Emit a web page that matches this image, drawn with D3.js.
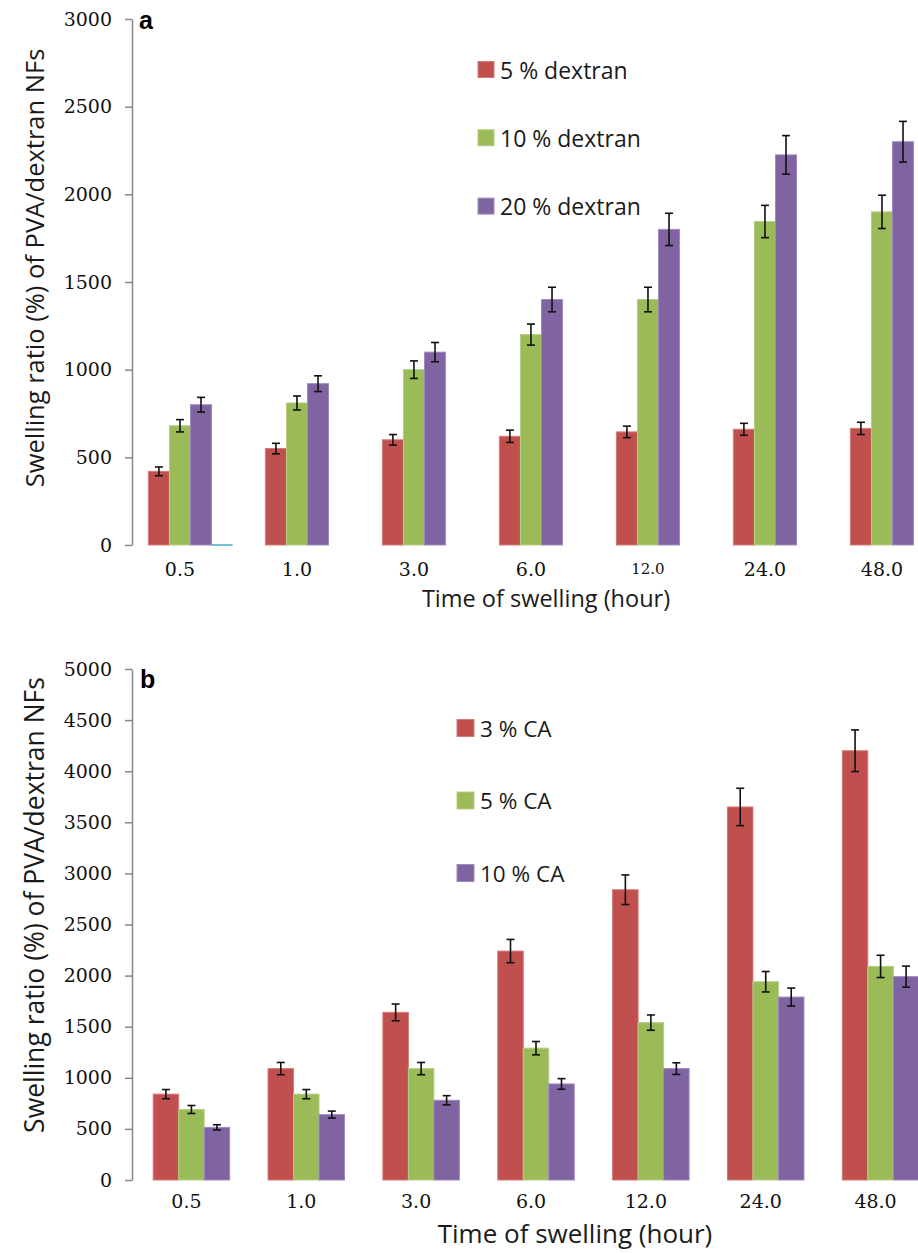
<!DOCTYPE html>
<html>
<head>
<meta charset="utf-8">
<script src="https://cdn.jsdelivr.net/npm/d3@7"></script>
<style>
  html, body { margin: 0; padding: 0; background: #fff; }
  svg { display: block; }
</style>
</head>
<body>
<svg id="chart" width="918" height="1253"></svg>
<script>
// ---------- DATA ----------
const categories = ["0.5", "1.0", "3.0", "6.0", "12.0", "24.0", "48.0"];

// Panel a: PVA/dextran NFs with various dextran contents
const seriesA = ["5 % dextran", "10 % dextran", "20 % dextran"];
const dextran5     = [420, 550, 600, 620, 645, 660, 665];
const dextran5Err  = [25, 30, 30, 35, 33, 34, 35];
const dextran10    = [680, 810, 1000, 1200, 1400, 1845, 1900];
const dextran10Err = [35, 40, 50, 60, 70, 92, 95];
const dextran20    = [800, 920, 1100, 1400, 1800, 2225, 2300];
const dextran20Err = [42, 45, 55, 70, 92, 110, 116];
const emptySeriesA = [0, null, null, null, null, null, null]; // stray empty 4th series
const yTicksA = [0, 500, 1000, 1500, 2000, 2500, 3000];

// Panel b: various CA contents
const seriesB = ["3 % CA", "5 % CA", "10 % CA"];
const ca3     = [840, 1090, 1640, 2240, 2840, 3650, 4200];
const ca3Err  = [45, 60, 82, 114, 145, 183, 204];
const ca5     = [690, 840, 1090, 1290, 1540, 1940, 2090];
const ca5Err  = [39, 45, 60, 65, 75, 100, 109];
const ca10    = [515, 640, 780, 940, 1090, 1790, 1990];
const ca10Err = [26, 34, 45, 52, 57, 88, 103];
const yTicksB = [0, 500, 1000, 1500, 2000, 2500, 3000, 3500, 4000, 4500, 5000];

const yTitle = "Swelling ratio (%) of PVA/dextran NFs";
const xTitle = "Time of swelling (hour)";

// ---------- STYLE ----------
const colors = ["#C0504D", "#9BBB59", "#8064A2"];
const strokes = ["#d27a77", "#b5cf84", "#a08bc0"];
const emptyColor = "#4BACC6";
const axisColor = "#868686";
const serif = "'DejaVu Serif', serif";
const sans = "'Open Sans', sans-serif";

const svg = d3.select("#chart");
svg.append("rect").attr("width", 918).attr("height", 1253).attr("fill", "#fff");

function drawPanel(cfg) {
  const g = svg.append("g");
  const x = d3.scaleBand().domain(categories).range(cfg.xRange)
    .paddingInner(cfg.padIn).paddingOuter(cfg.padIn / 2);
  const sub = d3.scaleBand().domain(cfg.subKeys).range([0, x.bandwidth()]);
  const y = d3.scaleLinear().domain(cfg.yDomain).range(cfg.yRange);

  // y axis
  const ax = g.append("g").attr("transform", `translate(${cfg.xRange[0] - cfg.axisInset},0)`)
    .call(d3.axisLeft(y).tickValues(cfg.yTicks).tickFormat(d3.format("d"))
      .tickSize(7).tickSizeOuter(0).tickPadding(13));
  ax.attr("font-family", serif).attr("font-size", cfg.tickFont);
  ax.select(".domain").attr("stroke", axisColor).attr("stroke-width", 1.5);
  ax.selectAll(".tick line").attr("stroke", axisColor).attr("stroke-width", 1.5);
  ax.selectAll(".tick text").attr("fill", "#111").style("font-family", serif)
    .style("font-size", cfg.tickFont + "px");

  // bars
  cfg.series.forEach((s, i) => {
    const key = cfg.subKeys[i];
    const data = categories.map((c, j) => ({ c, v: s.values[j], e: s.errs[j] }));
    g.append("g").selectAll("rect").data(data).join("rect")
      .attr("x", d => x(d.c) + sub(key))
      .attr("y", d => y(d.v))
      .attr("width", sub.bandwidth())
      .attr("height", d => y(0) - y(d.v))
      .attr("fill", colors[i])
      .attr("stroke", strokes[i]).attr("stroke-width", 1);
    // error bars
    const eg = g.append("g").attr("stroke", "#111").attr("stroke-width", 1.6);
    data.forEach(d => {
      const cx = x(d.c) + sub(key) + sub.bandwidth() / 2;
      const cap = 4;
      eg.append("line").attr("x1", cx).attr("x2", cx).attr("y1", y(d.v + d.e)).attr("y2", y(d.v - d.e));
      eg.append("line").attr("x1", cx - cap).attr("x2", cx + cap).attr("y1", y(d.v + d.e)).attr("y2", y(d.v + d.e));
      eg.append("line").attr("x1", cx - cap).attr("x2", cx + cap).attr("y1", y(d.v - d.e)).attr("y2", y(d.v - d.e));
    });
  });

  // stray empty series (zero-height bar seen as a thin line)
  if (cfg.empty) {
    const key = cfg.subKeys[3];
    const data = categories.map((c, j) => ({ c, v: cfg.empty[j] })).filter(d => d.v !== null);
    g.append("g").selectAll("line").data(data).join("line")
      .attr("x1", d => x(d.c) + sub(key)).attr("x2", d => x(d.c) + sub(key) + sub.bandwidth())
      .attr("y1", d => y(d.v)).attr("y2", d => y(d.v))
      .attr("stroke", emptyColor).attr("stroke-width", 1.5);
  }

  // x tick labels (no axis line in the original)
  g.append("g").selectAll("text").data(categories).join("text")
    .attr("x", d => x(d) + cfg.labelShift(sub))
    .attr("y", cfg.xLabelY)
    .attr("text-anchor", "middle")
    .attr("dominant-baseline", "central")
    .attr("fill", "#111")
    .style("font-family", serif)
    .style("font-size", d => (cfg.smallLabel === d ? cfg.smallFont : cfg.tickFont) + "px")
    .text(d => d);

  // axis titles
  g.append("text").attr("x", cfg.xTitlePos[0]).attr("y", cfg.xTitlePos[1])
    .attr("text-anchor", "middle").attr("fill", "#1a1a1a")
    .style("font-family", sans).style("font-size", cfg.xTitleFont + "px").text(xTitle);
  g.append("text")
    .attr("transform", `translate(${cfg.yTitlePos[0]},${cfg.yTitlePos[1]}) rotate(-90)`)
    .attr("text-anchor", "middle").attr("fill", "#1a1a1a")
    .style("font-family", sans).style("font-size", cfg.yTitleFont + "px").text(yTitle);

  // panel letter
  g.append("text").attr("x", cfg.letterPos[0]).attr("y", cfg.letterPos[1])
    .style("font-family", "'Liberation Sans', Arial, sans-serif").style("font-weight", "bold")
    .style("font-size", "25px").attr("fill", "#000").text(cfg.letter);

  // legend
  const lg = g.append("g");
  cfg.series.forEach((s, i) => {
    const cy = cfg.legend.y0 + i * cfg.legend.dy;
    lg.append("rect").attr("x", cfg.legend.x).attr("y", cy - cfg.legend.size / 2)
      .attr("width", cfg.legend.size).attr("height", cfg.legend.size)
      .attr("fill", colors[i]).attr("stroke", strokes[i]).attr("stroke-width", 1);
    lg.append("text").attr("x", cfg.legend.x + cfg.legend.size + 6).attr("y", cy)
      .attr("dominant-baseline", "central").attr("fill", "#1a1a1a")
      .style("font-family", sans).style("font-size", cfg.legend.font + "px").text(s.name);
  });
}

drawPanel({
  letter: "a", letterPos: [139, 29],
  xRange: [132, 951], axisInset: 0, padIn: 0.28,
  subKeys: ["s1", "s2", "s3", "s4"],
  yDomain: [0, 3000], yRange: [545, 19], yTicks: yTicksA,
  series: [
    { name: seriesA[0], values: dextran5, errs: dextran5Err },
    { name: seriesA[1], values: dextran10, errs: dextran10Err },
    { name: seriesA[2], values: dextran20, errs: dextran20Err }
  ],
  empty: emptySeriesA,
  labelShift: sub => sub.bandwidth() * 1.5,
  xLabelY: 569, tickFont: 19, smallLabel: "12.0", smallFont: 15,
  xTitlePos: [546, 607], xTitleFont: 23.5,
  yTitlePos: [44, 268], yTitleFont: 25.5,
  legend: { x: 478, y0: 69.5, dy: 68.3, size: 16, font: 23 }
});

drawPanel({
  letter: "b", letterPos: [140, 688],
  xRange: [134, 938], axisInset: 2, padIn: 0.334,
  subKeys: ["s1", "s2", "s3"],
  yDomain: [0, 5000], yRange: [1180, 669], yTicks: yTicksB,
  series: [
    { name: seriesB[0], values: ca3, errs: ca3Err },
    { name: seriesB[1], values: ca5, errs: ca5Err },
    { name: seriesB[2], values: ca10, errs: ca10Err }
  ],
  empty: null,
  labelShift: sub => sub.bandwidth() * 1.5 - 5,
  xLabelY: 1201, tickFont: 19, smallLabel: null, smallFont: 19,
  xTitlePos: [575, 1243], xTitleFont: 26,
  yTitlePos: [44, 905], yTitleFont: 26.5,
  legend: { x: 457, y0: 728, dy: 72.5, size: 17, font: 22.5 }
});
</script>
</body>
</html>
